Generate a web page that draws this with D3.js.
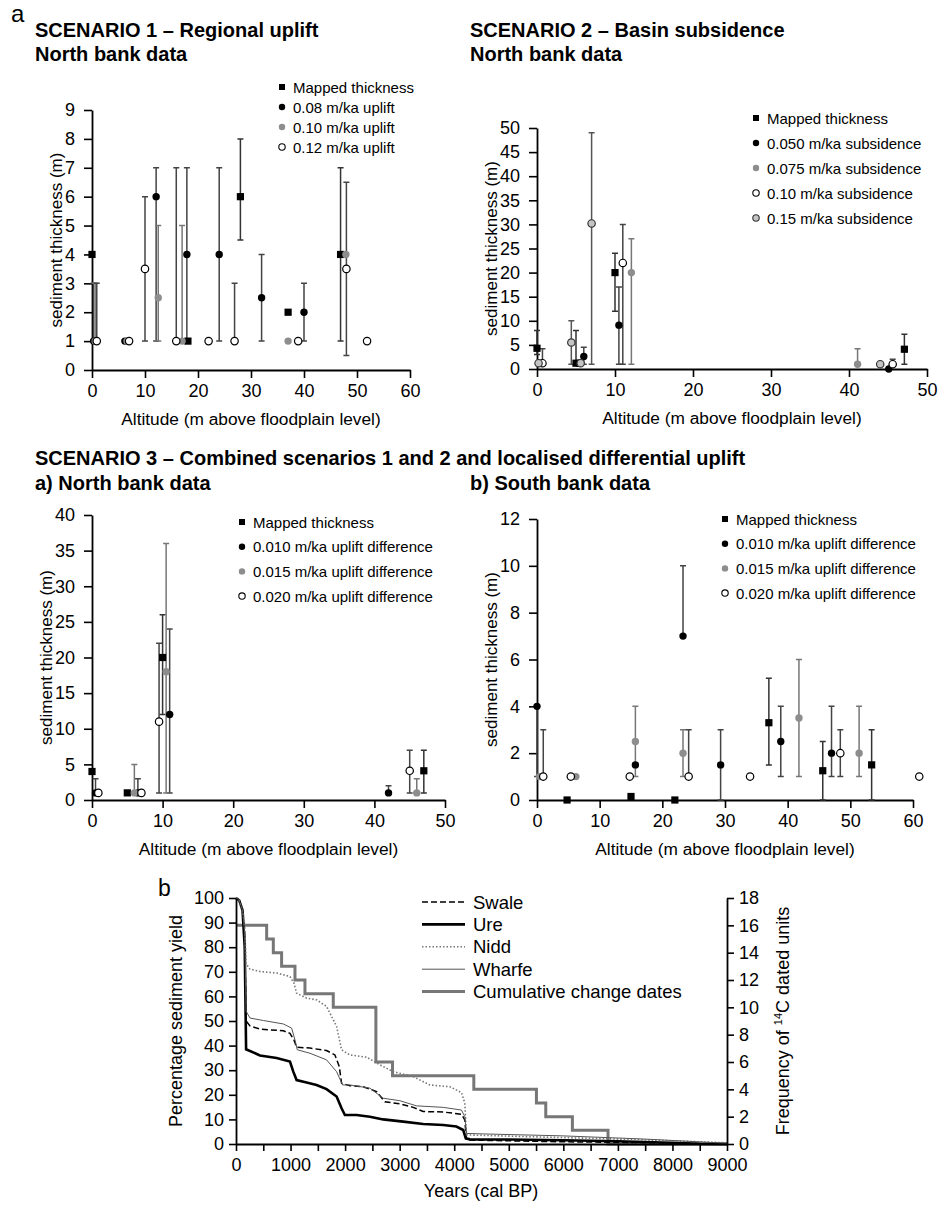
<!DOCTYPE html>
<html>
<head>
<meta charset="utf-8">
<script src="https://cdn.jsdelivr.net/npm/d3@7"></script>
<style>
body { margin: 0; background: #fff; }
</style>
</head>
<body>
<script>
var w = 939;
var h = 1205;
var FONT = "'Liberation Sans', Arial, Helvetica, sans-serif";

// ---- panel a data: [altitude, thickness, errLow, errHigh] ----
// scenario 1
var s1Mapped = [[0, 4], [18.1, 1], [28, 6, 4.5, 8], [37, 2], [46.9, 4, 1, 7]];
var s1Up08 = [[0.3, 1, 1, 3], [6.2, 1], [12.1, 6, 1, 7], [17.9, 4, 1, 7], [24, 4, 1, 7], [32, 2.5, 1, 4], [40, 2, 1, 3]];
var s1Up10 = [[0.6, 1, 1, 3], [6.6, 1], [12.5, 2.5, 1, 5], [17, 1, 1, 5], [37, 1], [47.9, 4]];
var s1Up12 = [[0.9, 1, 1, 3], [7, 1], [10, 3.5, 1, 6], [15.9, 1, 1, 7], [22, 1], [26.9, 1, 1, 3], [38.9, 1], [48, 3.5, 0.5, 6.5], [51.9, 1]];

// scenario 2
var s2Mapped = [[0, 4.3, 3, 8], [5, 1.2, 1, 8], [10, 20, 12, 24], [47.1, 4.1, 1, 7.2]];
var s2Sub050 = [[5.3, 1.2], [6, 2.6, 1, 4.5], [10.5, 9.1, 1, 17], [45.1, 0]];
var s2Sub075 = [[12.1, 20, 1, 27], [41.1, 1, 1, 4.2]];
var s2Sub10 = [[0.7, 1.2, 1, 4.2], [11, 22, 1, 30], [45.6, 1, 1, 2]];
var s2Sub15 = [[0.2, 1.2], [4.4, 5.5, 1, 10], [5.6, 1.2], [7, 30.2, 1, 49], [44, 1]];

// scenario 3a, north bank
var s3aMapped = [[0, 4], [5, 1], [10, 20, 12, 26], [47, 4.1, 1, 7]];
var s3aDiff010 = [[0.5, 1, 1, 3], [6.5, 1, 1, 3], [11, 12, 1, 24], [42, 1, 1, 2]];
var s3aDiff015 = [[6, 1, 1, 5], [10.5, 18, 1, 36], [46, 1, 1, 3]];
var s3aDiff020 = [[0.9, 1], [7, 1], [9.5, 11, 1, 22], [45, 4.1, 1, 7]];

// scenario 3b, south bank
var s3bMapped = [[4.8, 0], [15, 0.15], [22, 0], [37, 3.3, 1.5, 5.2], [45.6, 1.25, 0, 2.5], [53.4, 1.5, 0, 3]];
var s3bDiff010 = [[0, 4, 1, 4], [15.7, 1.5], [23.3, 7, 7, 10], [29.3, 1.5, 0, 3], [38.9, 2.5, 1, 4], [47, 2, 1, 4]];
var s3bDiff015 = [[0.4, 1], [6.2, 1], [15.7, 2.5, 1, 4], [23.3, 2, 1, 3], [41.8, 3.5, 1, 6], [51.4, 2, 1, 4]];
var s3bDiff020 = [[1, 1, 1, 3], [5.4, 1], [14.8, 1], [24.2, 1, 1, 3], [34, 1], [48.4, 2, 1, 3], [61, 1]];

// ---- panel b data: [years cal BP, % sediment yield] ----
var swale = [[0, 100], [60, 99], [120, 95], [160, 85], [185, 50], [256, 48], [440, 46.7], [867, 46], [989, 45], [1062, 42.3], [1111, 39.3], [1355, 39], [1660, 38], [1813, 36.2], [1893, 31.5], [1935, 24.7], [2088, 23.7], [2332, 23.3], [2576, 21.3], [2729, 17.2], [3004, 16.3], [3248, 14.9], [3431, 13.2], [3797, 13], [4133, 12.1], [4194, 9.8], [4225, 1.6], [5000, 1.3], [6000, 0.9], [7000, 0.7], [8000, 0.4], [9000, 0.1]];
var ure = [[0, 100], [60, 99], [120, 95], [160, 80], [185, 38.5], [440, 36], [745, 35], [989, 33.5], [1050, 29.4], [1111, 26], [1294, 25], [1477, 24], [1660, 22.3], [1844, 19.3], [1935, 14.5], [1996, 11.8], [2210, 11.8], [2454, 11.1], [2698, 10], [3065, 9.1], [3431, 8.1], [3797, 7.7], [4041, 7.1], [4164, 5.7], [4212, 2.3], [4286, 1.9], [5000, 1.8], [6000, 1.5], [7000, 1.1], [8000, 0.5], [8500, 0.1], [9000, 0]];
var nidd = [[0, 100], [60, 99], [120, 95], [160, 88], [185, 73.3], [256, 71.1], [440, 70.1], [745, 69.5], [989, 68.1], [1062, 65.4], [1111, 61.3], [1294, 59.3], [1477, 58.6], [1660, 55.9], [1844, 47.8], [1935, 38.3], [2088, 36.2], [2393, 35.3], [2637, 32.2], [2882, 29.4], [3248, 27.4], [3553, 24], [3919, 23.3], [4133, 20.9], [4194, 16.6], [4225, 3.7], [5000, 3.2], [6000, 2.6], [7000, 2], [8000, 1.3], [9000, 0.5]];
var wharfe = [[0, 100], [60, 99], [120, 95], [160, 86], [185, 54], [256, 51.2], [501, 50.2], [867, 48.8], [1020, 47.1], [1081, 42.3], [1123, 38.3], [1355, 36.9], [1660, 34.2], [1844, 29.4], [1954, 24], [2088, 24], [2454, 22.7], [2698, 18.6], [3004, 17.6], [3309, 15.5], [3797, 14.9], [4133, 13.8], [4194, 11.1], [4225, 4.3], [4530, 4.1], [6000, 3.3], [7500, 2], [9000, 0.3]];
// cumulative change dates (right axis, step after)
var cumDates = [[0, 16], [562, 15], [684, 14], [836, 13], [1081, 12], [1264, 11], [1783, 10], [2564, 6], [2869, 5], [4359, 4], [5507, 3], [5678, 2], [6166, 1], [6819, 0], [9000, 0]];

var svg = d3.select("body").append("svg")
    .attr("width", w)
    .attr("height", h)
    .style("font-family", FONT);

svg.append("rect").attr("width", w).attr("height", h).attr("fill", "#fff");

var markerStyle = {
    square: { fill: "#000", stroke: "none", err: "#333" },
    black:  { fill: "#000", stroke: "none", err: "#444" },
    gray:   { fill: "#8d8d8d", stroke: "none", err: "#777" },
    open:   { fill: "#fff", stroke: "#000", err: "#444" },
    ltgray: { fill: "#c4c4c4", stroke: "#333", err: "#555" }
};

function styleAxis(sel) {
    sel.attr("font-family", FONT).attr("font-size", 18);
    sel.select(".domain").attr("stroke", "#000").attr("stroke-width", 1.8);
    sel.selectAll(".tick line").attr("stroke", "#000").attr("stroke-width", 1.6);
    sel.selectAll(".tick text").attr("fill", "#000");
}

function drawMarker(g, type, cx, cy) {
    var st = markerStyle[type];
    if (type == "square") {
        g.append("rect").attr("x", cx - 3.6).attr("y", cy - 3.6)
            .attr("width", 7.2).attr("height", 7.2).attr("fill", st.fill);
    } else {
        g.append("circle").attr("cx", cx).attr("cy", cy).attr("r", 3.7)
            .attr("fill", st.fill).attr("stroke", st.stroke).attr("stroke-width", 1.2);
    }
}

function drawPanel(p) {
    var x = d3.scaleLinear().domain(p.xDomain).range(p.xRange);
    var y = d3.scaleLinear().domain(p.yDomain).range(p.yRange);
    var g = svg.append("g");

    g.append("g").attr("transform", "translate(0," + p.yRange[0] + ")")
        .call(d3.axisBottom(x).tickValues(p.xTicks).tickSize(8).tickPadding(6).tickSizeOuter(0))
        .call(styleAxis);
    g.append("g").attr("transform", "translate(" + p.xRange[0] + ",0)")
        .call(d3.axisLeft(y).tickValues(p.yTicks).tickSize(8).tickPadding(9).tickSizeOuter(0))
        .call(styleAxis);

    g.append("text")
        .attr("x", (p.xRange[0] + p.xRange[1]) / 2)
        .attr("y", p.yRange[0] + 55)
        .attr("text-anchor", "middle")
        .attr("font-size", 17.3)
        .text("Altitude (m above floodplain level)");
    g.append("text")
        .attr("transform", "translate(" + p.yTitleX + "," + (p.yRange[0] + p.yRange[1]) / 2 + ") rotate(-90)")
        .attr("text-anchor", "middle")
        .attr("font-size", 17)
        .text("sediment thickness (m)");

    // error bars first
    p.series.forEach(function(s) {
        var st = markerStyle[s.type];
        g.selectAll(null)
            .data(s.data.filter(function(d) { return d.length > 2; }))
            .enter().append("path")
            .attr("d", function(d) {
                var xx = x(d[0]), ylo = y(d[2]), yhi = y(d[3]);
                return "M" + (xx - 3) + "," + ylo + "H" + (xx + 3) +
                    "M" + xx + "," + ylo + "V" + yhi +
                    "M" + (xx - 3) + "," + yhi + "H" + (xx + 3);
            })
            .attr("fill", "none")
            .attr("stroke", st.err)
            .attr("stroke-width", 1.5);
    });
    p.series.forEach(function(s) {
        s.data.forEach(function(d) { drawMarker(g, s.type, x(d[0]), y(d[1])); });
    });

    // legend
    p.series.forEach(function(s, i) {
        var ly = p.legend[1] + i * p.legend[2];
        var lg = g.append("g");
        if (s.type == "square") {
            lg.append("rect").attr("x", p.legend[0] - 3).attr("y", ly - 3)
                .attr("width", 6).attr("height", 6).attr("fill", "#000");
        } else {
            var st = markerStyle[s.type];
            lg.append("circle").attr("cx", p.legend[0]).attr("cy", ly).attr("r", 3.2)
                .attr("fill", st.fill).attr("stroke", st.stroke).attr("stroke-width", 1.1);
        }
        lg.append("text")
            .attr("x", p.legend[0] + 11)
            .attr("y", ly + 5.5)
            .attr("font-size", 15)
            .text(s.label);
    });
}

function boldText(x, y, str) {
    svg.append("text").attr("x", x).attr("y", y)
        .attr("font-size", 20).attr("font-weight", "bold").text(str);
}

// headings
svg.append("text").attr("x", 11).attr("y", 22).attr("font-size", 24).text("a");
boldText(35, 37, "SCENARIO 1 \u2013 Regional uplift");
boldText(35, 61, "North bank data");
boldText(470, 37, "SCENARIO 2 \u2013 Basin subsidence");
boldText(470, 61, "North bank data");
boldText(35, 465, "SCENARIO 3 \u2013 Combined scenarios 1 and 2 and localised differential uplift");
boldText(35, 490, "a) North bank data");
boldText(470, 490, "b) South bank data");

drawPanel({
    xDomain: [0, 60], xRange: [92, 410], xTicks: d3.range(0, 61, 10),
    yDomain: [0, 9], yRange: [370, 110], yTicks: d3.range(0, 10, 1),
    yTitleX: 62,
    legend: [282, 87, 20],
    series: [
        { type: "square", label: "Mapped thickness", data: s1Mapped },
        { type: "black", label: "0.08 m/ka uplift", data: s1Up08 },
        { type: "gray", label: "0.10 m/ka uplift", data: s1Up10 },
        { type: "open", label: "0.12 m/ka uplift", data: s1Up12 }
    ]
});

drawPanel({
    xDomain: [0, 50], xRange: [537, 927], xTicks: d3.range(0, 51, 10),
    yDomain: [0, 50], yRange: [369, 128], yTicks: d3.range(0, 51, 5),
    yTitleX: 497,
    legend: [756, 118, 25],
    series: [
        { type: "square", label: "Mapped thickness", data: s2Mapped },
        { type: "black", label: "0.050 m/ka subsidence", data: s2Sub050 },
        { type: "gray", label: "0.075 m/ka subsidence", data: s2Sub075 },
        { type: "open", label: "0.10 m/ka subsidence", data: s2Sub10 },
        { type: "ltgray", label: "0.15 m/ka subsidence", data: s2Sub15 }
    ]
});

drawPanel({
    xDomain: [0, 50], xRange: [92, 445], xTicks: d3.range(0, 51, 10),
    yDomain: [0, 40], yRange: [800, 515], yTicks: d3.range(0, 41, 5),
    yTitleX: 52,
    legend: [242, 522, 24.7],
    series: [
        { type: "square", label: "Mapped thickness", data: s3aMapped },
        { type: "black", label: "0.010 m/ka uplift difference", data: s3aDiff010 },
        { type: "gray", label: "0.015 m/ka uplift difference", data: s3aDiff015 },
        { type: "open", label: "0.020 m/ka uplift difference", data: s3aDiff020 }
    ]
});

drawPanel({
    xDomain: [0, 60], xRange: [537, 913], xTicks: d3.range(0, 61, 10),
    yDomain: [0, 12], yRange: [800, 519], yTicks: d3.range(0, 13, 2),
    yTitleX: 497,
    legend: [725, 519, 24.7],
    series: [
        { type: "square", label: "Mapped thickness", data: s3bMapped },
        { type: "black", label: "0.010 m/ka uplift difference", data: s3bDiff010 },
        { type: "gray", label: "0.015 m/ka uplift difference", data: s3bDiff015 },
        { type: "open", label: "0.020 m/ka uplift difference", data: s3bDiff020 }
    ]
});

// ---- panel b ----
drawYield();

function drawYield() {
    var x = d3.scaleLinear().domain([0, 9000]).range([236, 727]);
    var y = d3.scaleLinear().domain([0, 100]).range([1144, 898]);
    var yr = d3.scaleLinear().domain([0, 18]).range([1144, 898]);
    var g = svg.append("g");

    g.append("text").attr("x", 158).attr("y", 896).attr("font-size", 23).text("b");

    var line = d3.line().x(function(d) { return x(d[0]); }).y(function(d) { return y(d[1]); });
    var stepLine = d3.line().curve(d3.curveStepAfter)
        .x(function(d) { return x(d[0]); }).y(function(d) { return yr(d[1]); });

    var rivers = [
        { name: "Swale", data: swale, stroke: "#000", width: 1.5, dash: "6,3" },
        { name: "Ure", data: ure, stroke: "#000", width: 2.6, dash: null },
        { name: "Nidd", data: nidd, stroke: "#777", width: 1.6, dash: "1.5,2" },
        { name: "Wharfe", data: wharfe, stroke: "#555", width: 1, dash: null }
    ];

    g.append("path").datum(cumDates).attr("d", stepLine)
        .attr("fill", "none").attr("stroke", "#777").attr("stroke-width", 3);
    rivers.forEach(function(r) {
        g.append("path").datum(r.data).attr("d", line)
            .attr("fill", "none").attr("stroke", r.stroke)
            .attr("stroke-width", r.width)
            .attr("stroke-dasharray", r.dash);
    });

    g.append("g").attr("transform", "translate(0,1144)")
        .call(d3.axisBottom(x).tickValues(d3.range(0, 9001, 500)).tickSize(7).tickPadding(7).tickSizeOuter(0)
            .tickFormat(function(d) { return d % 1000 ? "" : d; }))
        .call(styleAxis);
    g.append("g").attr("transform", "translate(236,0)")
        .call(d3.axisLeft(y).tickValues(d3.range(0, 101, 10)).tickSize(7).tickPadding(5).tickSizeOuter(0))
        .call(styleAxis);
    g.append("g").attr("transform", "translate(727,0)")
        .call(d3.axisRight(yr).tickValues(d3.range(0, 19, 2)).tickSize(7).tickPadding(5).tickSizeOuter(0))
        .call(styleAxis);

    g.append("text").attr("x", 481).attr("y", 1197).attr("text-anchor", "middle")
        .attr("font-size", 18).text("Years (cal BP)");
    g.append("text")
        .attr("transform", "translate(182,1021) rotate(-90)")
        .attr("text-anchor", "middle").attr("font-size", 18)
        .text("Percentage sediment yield");
    var ft = g.append("text")
        .attr("transform", "translate(789,1021) rotate(-90)")
        .attr("text-anchor", "middle").attr("font-size", 18);
    ft.append("tspan").text("Frequency of ");
    ft.append("tspan").attr("font-size", 11).attr("dy", -7).text("14");
    ft.append("tspan").attr("dy", 7).text("C dated units");

    // legend
    var legendRows = rivers.concat([{ name: "Cumulative change dates", stroke: "#777", width: 3, dash: null }]);
    legendRows.forEach(function(r, i) {
        var ly = 902 + i * 22.4;
        g.append("line").attr("x1", 422).attr("x2", 465).attr("y1", ly).attr("y2", ly)
            .attr("stroke", r.stroke).attr("stroke-width", r.width).attr("stroke-dasharray", r.dash);
        g.append("text").attr("x", 473).attr("y", ly + 6.5).attr("font-size", 18.5).text(r.name);
    });
}
</script>
</body>
</html>
